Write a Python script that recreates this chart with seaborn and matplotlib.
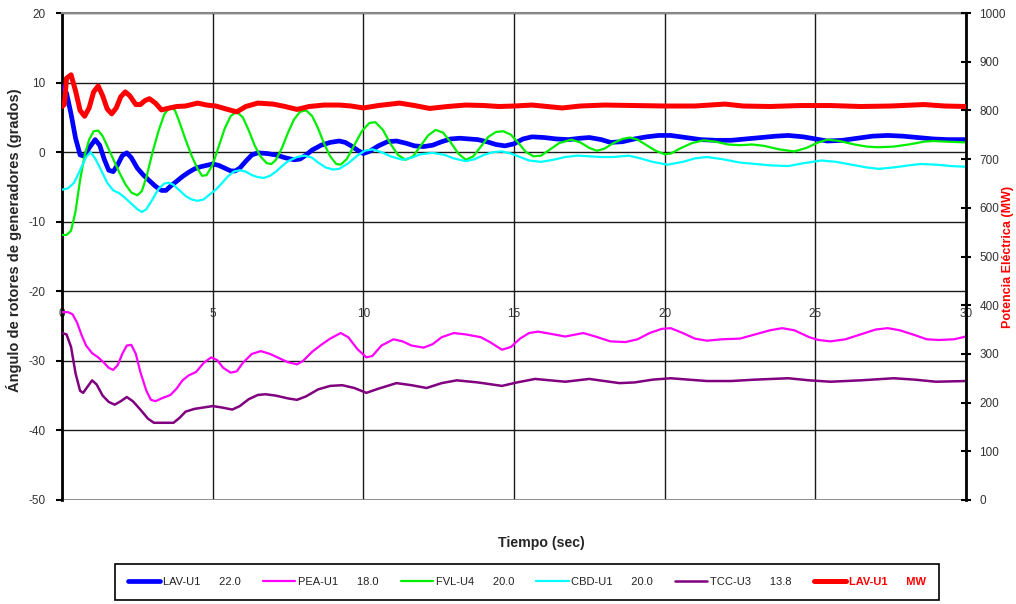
import matplotlib
matplotlib.use("Agg")
import matplotlib.pyplot as plt
from matplotlib.lines import Line2D
import seaborn as sns

# ---------------- data ----------------
t_lav = [0, 0.15, 0.3, 0.45, 0.6, 0.75, 0.9, 1.1, 1.25, 1.4, 1.55, 1.7, 1.85, 2.0, 2.15, 2.3, 2.5, 2.7,
         2.9, 3.1, 3.3, 3.45, 3.6, 3.8, 4.0, 4.2, 4.4, 4.6, 4.8, 5.0, 5.2, 5.4, 5.6, 5.75, 5.9, 6.1, 6.3,
         6.5, 6.8, 7.1, 7.4, 7.7, 7.9, 8.1, 8.3, 8.6, 8.9, 9.2, 9.4, 9.6, 9.8, 10.0, 10.2, 10.5, 10.8,
         11.1, 11.4, 11.7, 12.0, 12.3, 12.6, 12.9, 13.2, 13.5, 13.8, 14.1, 14.4, 14.7, 15.0, 15.3, 15.6,
         16.0, 16.4, 16.8, 17.2, 17.5, 17.9, 18.2, 18.6, 19.0, 19.4, 19.8, 20.2, 20.7, 21.2, 21.7, 22.2,
         22.7, 23.2, 23.7, 24.1, 24.6, 25.0, 25.4, 25.9, 26.4, 26.9, 27.4, 27.9, 28.4, 28.9, 29.4, 30.0]
v_lav = [9.4, 8.5, 5.5, 2.0, -0.4, -0.6, 0.6, 1.8, 1.0, -1.0, -2.6, -2.8, -1.8, -0.5, -0.1, -0.8, -2.3, -3.3,
         -4.1, -4.9, -5.5, -5.5, -4.9, -4.2, -3.5, -2.9, -2.4, -2.1, -1.9, -1.7, -1.9, -2.3, -2.7, -2.7, -2.3,
         -1.3, -0.4, -0.1, -0.2, -0.4, -0.8, -1.1, -1.0, -0.4, 0.3, 1.0, 1.4, 1.6, 1.4, 0.9, 0.3, -0.2, 0.1,
         0.9, 1.5, 1.6, 1.3, 0.9, 0.8, 1.0, 1.5, 1.9, 2.0, 1.9, 1.8, 1.5, 1.1, 0.9, 1.2, 1.9, 2.2, 2.1, 1.9,
         1.8, 2.0, 2.1, 1.8, 1.4, 1.5, 1.9, 2.2, 2.4, 2.4, 2.1, 1.8, 1.7, 1.7, 1.9, 2.1, 2.3, 2.4, 2.2, 1.9,
         1.6, 1.7, 2.0, 2.3, 2.4, 2.3, 2.1, 1.9, 1.8, 1.8]

t_pea = [0, 0.2, 0.35, 0.5, 0.65, 0.8, 1.0, 1.2, 1.4, 1.55, 1.7, 1.85, 2.0, 2.15, 2.3, 2.45, 2.6, 2.8,
         2.95, 3.1, 3.3, 3.6, 3.8, 4.0, 4.2, 4.45, 4.7, 4.95, 5.15, 5.35, 5.6, 5.8, 6.0, 6.3, 6.6, 6.9,
         7.2, 7.5, 7.8, 8.0, 8.3, 8.6, 8.9, 9.25, 9.5, 9.8, 10.1, 10.3, 10.6, 11.0, 11.3, 11.6, 12.0,
         12.3, 12.6, 13.0, 13.4, 13.9, 14.2, 14.6, 14.9, 15.2, 15.5, 15.8, 16.2, 16.7, 17.3, 17.7, 18.2,
         18.7, 19.1, 19.5, 19.9, 20.2, 20.6, 21.0, 21.4, 21.9, 22.5, 23.0, 23.5, 23.9, 24.3, 24.8, 25.1,
         25.5, 26.0, 26.5, 27.0, 27.4, 27.8, 28.3, 28.7, 29.1, 29.6, 30.0]
v_pea = [-23.0, -23.0, -23.3, -24.5, -26.3, -27.8, -28.9, -29.5, -30.3, -31.0, -31.3, -30.6, -29.0, -27.8,
         -27.7, -29.0, -31.6, -34.3, -35.6, -35.8, -35.4, -34.9, -34.0, -32.8, -32.1, -31.6, -30.3, -29.5,
         -29.9, -31.0, -31.7, -31.5, -30.3, -29.0, -28.6, -29.0, -29.6, -30.2, -30.5, -30.0, -28.7, -27.7,
         -26.8, -26.0, -26.6, -28.3, -29.5, -29.3, -27.8, -26.9, -27.2, -27.8, -28.1, -27.6, -26.6, -26.0,
         -26.2, -26.6, -27.3, -28.4, -28.0, -26.8, -26.0, -25.8, -26.1, -26.5, -26.0, -26.5, -27.2, -27.3,
         -26.9, -26.0, -25.4, -25.3, -26.0, -26.8, -27.1, -26.9, -26.8, -26.2, -25.6, -25.3, -25.6, -26.6,
         -27.0, -27.2, -26.9, -26.2, -25.5, -25.3, -25.6, -26.3, -26.9, -27.0, -26.9, -26.5]

t_fvl = [0, 0.15, 0.3, 0.45, 0.6, 0.75, 0.9, 1.05, 1.2, 1.35, 1.5, 1.7, 1.9, 2.1, 2.3, 2.5, 2.65, 2.8, 3.0,
         3.2, 3.4, 3.6, 3.75, 3.9, 4.1, 4.3, 4.5, 4.65, 4.8, 5.0, 5.2, 5.4, 5.6, 5.8, 6.0, 6.2, 6.4, 6.6,
         6.8, 6.95, 7.1, 7.3, 7.5, 7.7, 7.9, 8.1, 8.3, 8.5, 8.7, 8.9, 9.1, 9.25, 9.45, 9.7, 9.95, 10.2,
         10.4, 10.65, 10.9, 11.15, 11.4, 11.65, 11.9, 12.15, 12.4, 12.65, 12.9, 13.15, 13.4, 13.65, 13.9,
         14.15, 14.4, 14.65, 14.9, 15.15, 15.4, 15.65, 15.9, 16.2, 16.5, 16.9, 17.2, 17.5, 17.75, 18.0,
         18.3, 18.6, 18.85, 19.1, 19.4, 19.7, 20.0, 20.2, 20.5, 20.9, 21.3, 21.7, 22.1, 22.5, 22.9, 23.3,
         23.8, 24.3, 24.7, 25.1, 25.4, 25.8, 26.3, 26.7, 27.1, 27.6, 28.1, 28.6, 28.9, 29.4, 30.0]
v_fvl = [-11.9, -11.9, -11.3, -8.5, -4.0, -0.5, 1.8, 3.0, 3.1, 2.3, 0.9, -1.0, -2.9, -4.6, -5.8, -6.2, -5.6,
         -3.6, -0.1, 3.0, 5.5, 6.5, 6.0, 4.3, 1.8, -0.5, -2.4, -3.4, -3.3, -1.8, 0.8, 3.4, 5.2, 5.8, 5.0,
         3.1, 0.9, -0.7, -1.6, -1.7, -1.1, 0.6, 2.8, 4.7, 5.8, 6.0, 5.2, 3.4, 1.2, -0.6, -1.7, -1.8, -1.0,
         1.0, 3.0, 4.2, 4.3, 3.2, 1.2, -0.4, -1.1, -0.6, 0.9, 2.4, 3.2, 2.8, 1.4, -0.2, -1.1, -0.6, 0.8, 2.2,
         2.9, 3.0, 2.5, 1.3, 0.0, -0.6, -0.5, 0.4, 1.3, 1.8, 1.4, 0.6, 0.2, 0.5, 1.3, 1.9, 2.1, 1.8, 1.0,
         0.2, -0.3, -0.2, 0.5, 1.3, 1.7, 1.5, 1.1, 1.0, 1.1, 0.9, 0.4, 0.1, 0.6, 1.4, 1.8, 1.6, 1.1, 0.8,
         0.7, 0.8, 1.1, 1.5, 1.6, 1.5, 1.4]

t_cbd = [0, 0.2, 0.4, 0.6, 0.8, 0.95, 1.1, 1.3, 1.5, 1.7, 1.9, 2.1, 2.3, 2.5, 2.65, 2.8, 3.0, 3.2, 3.4,
         3.55, 3.7, 3.9, 4.1, 4.3, 4.5, 4.7, 4.9, 5.1, 5.3, 5.5, 5.7, 5.9, 6.1, 6.3, 6.5, 6.7, 6.9, 7.1,
         7.3, 7.5, 7.8, 8.05, 8.3, 8.5, 8.75, 9.0, 9.2, 9.5, 9.8, 10.05, 10.3, 10.6, 10.9, 11.3, 11.6,
         11.9, 12.3, 12.7, 13.0, 13.4, 13.7, 14.0, 14.3, 14.6, 14.9, 15.2, 15.5, 15.9, 16.3, 16.7, 17.1,
         17.5, 17.9, 18.3, 18.8, 19.2, 19.6, 20.1, 20.6, 21.0, 21.4, 21.9, 22.5, 23.0, 23.5, 24.1, 24.6,
         25.2, 25.7, 26.2, 26.7, 27.1, 27.6, 28.1, 28.5, 29.0, 29.5, 30.0]
v_cbd = [-5.4, -5.2, -4.4, -2.6, -0.7, 0.0, -0.9, -2.6, -4.4, -5.5, -5.9, -6.6, -7.4, -8.2, -8.6, -8.2,
         -6.8, -5.3, -4.5, -4.4, -4.7, -5.5, -6.3, -6.8, -7.0, -6.8, -6.1, -5.4, -4.5, -3.5, -2.8, -2.6,
         -2.8, -3.3, -3.6, -3.7, -3.4, -2.8, -2.0, -1.3, -0.7, -0.5, -0.8, -1.5, -2.2, -2.5, -2.4, -1.6,
         -0.5, 0.2, 0.4, 0.0, -0.6, -1.1, -0.8, -0.3, -0.1, -0.4, -0.9, -1.3, -1.0, -0.4, 0.0, 0.1, -0.2,
         -0.7, -1.2, -1.4, -1.1, -0.7, -0.5, -0.6, -0.7, -0.7, -0.5, -0.9, -1.4, -1.8, -1.4, -0.9, -0.7,
         -1.0, -1.5, -1.7, -1.9, -2.0, -1.6, -1.2, -1.4, -1.8, -2.2, -2.4, -2.2, -1.9, -1.7, -1.8, -2.0, -2.1]

t_tcc = [0, 0.15, 0.3, 0.45, 0.6, 0.7, 0.85, 1.0, 1.15, 1.35, 1.55, 1.75, 1.95, 2.15, 2.35, 2.6, 2.85,
         3.05, 3.4, 3.7, 3.9, 4.1, 4.4, 4.7, 5.0, 5.3, 5.65, 5.9, 6.2, 6.5, 6.75, 7.1, 7.5, 7.8, 8.1, 8.5,
         8.9, 9.3, 9.7, 10.1, 10.5, 11.1, 11.6, 12.1, 12.6, 13.1, 13.8, 14.6, 15.1, 15.7, 16.2, 16.7,
         17.5, 18.0, 18.5, 19.0, 19.6, 20.2, 20.8, 21.4, 22.2, 23.0, 24.1, 24.8, 25.5, 26.5, 27.6, 28.3,
         29.0, 30.0]
v_tcc = [-26.0, -26.2, -28.0, -31.8, -34.3, -34.6, -33.7, -32.8, -33.4, -35.0, -35.9, -36.3, -35.8, -35.2,
         -35.8, -37.0, -38.3, -38.9, -38.9, -38.9, -38.2, -37.3, -36.9, -36.7, -36.5, -36.7, -37.0, -36.5,
         -35.5, -34.9, -34.8, -35.0, -35.4, -35.6, -35.1, -34.1, -33.6, -33.5, -33.9, -34.6, -34.0, -33.2,
         -33.5, -33.9, -33.2, -32.8, -33.1, -33.6, -33.1, -32.6, -32.8, -33.0, -32.6, -32.9, -33.2, -33.1,
         -32.7, -32.5, -32.7, -32.9, -32.9, -32.7, -32.5, -32.8, -33.0, -32.8, -32.5, -32.7, -33.0, -32.9]

t_mw = [0, 0.08, 0.15, 0.3, 0.45, 0.6, 0.75, 0.9, 1.05, 1.2, 1.35, 1.5, 1.65, 1.8, 1.95, 2.1, 2.25, 2.45,
        2.6, 2.75, 2.9, 3.1, 3.3, 3.5, 3.8, 4.1, 4.5, 4.8, 5.1, 5.5, 5.8, 6.1, 6.5, 7.0, 7.4, 7.8, 8.2,
        8.7, 9.2, 9.6, 10.0, 10.5, 11.2, 11.7, 12.2, 12.8, 13.4, 14.0, 14.5, 15.0, 15.6, 16.1, 16.6, 17.2,
        18.0, 19.0, 20.0, 21.0, 22.0, 22.6, 23.5, 24.5, 25.5, 26.5, 27.5, 28.6, 29.3, 30.0]
v_mw = [808, 812, 866, 873, 840, 800, 788, 805, 838, 850, 830, 803, 793, 805, 828, 838, 830, 812, 812, 820,
        824, 815, 801, 804, 808, 809, 815, 811, 809, 802, 797, 808, 815, 813, 808, 802, 808, 811, 811, 809,
        805, 810, 815, 810, 804, 808, 811, 810, 808, 809, 811, 808, 805, 809, 811, 810, 809, 809, 813, 809,
        808, 810, 810, 808, 809, 812, 809, 808]

legend_labels = ["LAV-U1      22.0", "PEA-U1      18.0", "FVL-U4      20.0",
                 "CBD-U1      20.0", "TCC-U3      13.8", "LAV-U1      MW"]
x_ticks = [0, 5, 10, 15, 20, 25, 30]
y_ticks = [-50, -40, -30, -20, -10, 0, 10, 20]
mw_ticks = [0, 100, 200, 300, 400, 500, 600, 700, 800, 900, 1000]

# ---------------- style ----------------
sns.set_style("white")
plt.rcParams['font.family'] = ['Liberation Sans', 'DejaVu Sans']
plt.rcParams['axes.unicode_minus'] = False

fig = plt.figure(figsize=(10.16, 6.04), dpi=100)
ax = fig.add_axes([62 / 1016, 104 / 604, 904 / 1016, 487 / 604])

series = [
    (t_lav, v_lav, "#0000FF", 3.4),
    (t_pea, v_pea, "#FF00FF", 1.6),
    (t_fvl, v_fvl, "#00EE00", 1.6),
    (t_cbd, v_cbd, "#00FFFF", 1.6),
    (t_tcc, v_tcc, "#800080", 1.8),
]
for t, v, c, lw in series:
    sns.lineplot(x=t, y=v, ax=ax, color=c, linewidth=lw, legend=False, zorder=3)

ax.set_xlim(0, 30)
ax.set_ylim(-50, 20)
ax.set_xticks(x_ticks)
ax.set_yticks(y_ticks)
ax.grid(True, color="#1a1a1a", linewidth=1.0, zorder=0)
ax.set_axisbelow(True)
ax.axhline(-50, color="#888888", lw=2, zorder=1)

ax.spines["top"].set_color("#888888")
ax.spines["top"].set_linewidth(1.5)
ax.spines["left"].set_color("black")
ax.spines["left"].set_linewidth(2)
ax.spines["right"].set_visible(False)
ax.spines["bottom"].set_position(("data", -20))
ax.spines["bottom"].set_visible(False)

ax.tick_params(axis="x", length=0, pad=12, labelsize=8.5, labelcolor="#333333")
ax.tick_params(axis="y", direction="out", length=4, width=1.5, color="black", pad=8,
               labelsize=8.5, labelcolor="#333333")
ax.set_xlabel("")
ax.set_ylabel("Ángulo de rotores de generadores (grados)", fontsize=10.5, fontweight="bold",
              va="center", ha="center")
ax.yaxis.set_label_coords((14 - 62) / 904, (500 - 240) / 487)

ax2 = ax.twinx()
sns.lineplot(x=t_mw, y=v_mw, ax=ax2, color="#FF0000", linewidth=3.6, legend=False, zorder=4)
ax2.set_ylim(0, 1000)
ax2.set_yticks(mw_ticks)
for s in ("top", "bottom", "left"):
    ax2.spines[s].set_visible(False)
ax2.spines["right"].set_color("black")
ax2.spines["right"].set_linewidth(2)
ax2.tick_params(axis="y", direction="inout", length=7, width=1.5, color="black", pad=6,
                labelsize=8.5, labelcolor="#333333")
ax2.set_ylabel("Potencia Eléctrica (MW)", fontsize=9, fontweight="bold", color="#FF0000",
               va="center", ha="center")
ax2.yaxis.set_label_coords((1008 - 62) / 904, 0.5)
ax2.grid(False)

fig.text(541 / 1016, 1 - 543 / 604, "Tiempo (sec)", ha="center", va="center",
         fontsize=10.2, fontweight="bold")

handles = [Line2D([], [], color=c, lw=lw) for _, _, c, lw in series]
handles.append(Line2D([], [], color="#FF0000", lw=3.6))
leg = fig.legend(handles, legend_labels, loc="center",
                 bbox_to_anchor=(527 / 1016, 1 - 582 / 604), ncol=6, fontsize=8,
                 frameon=True, fancybox=False, edgecolor="black", handlelength=2.9,
                 handletextpad=0.25, columnspacing=2.0, borderpad=1.2, framealpha=1)
leg.get_frame().set_linewidth(1.2)
for txt in leg.get_texts():
    txt.set_color("#222222")
leg.get_texts()[5].set_color("#FF0000")
leg.get_texts()[5].set_fontweight("bold")

fig.savefig("out.png", dpi=100)
